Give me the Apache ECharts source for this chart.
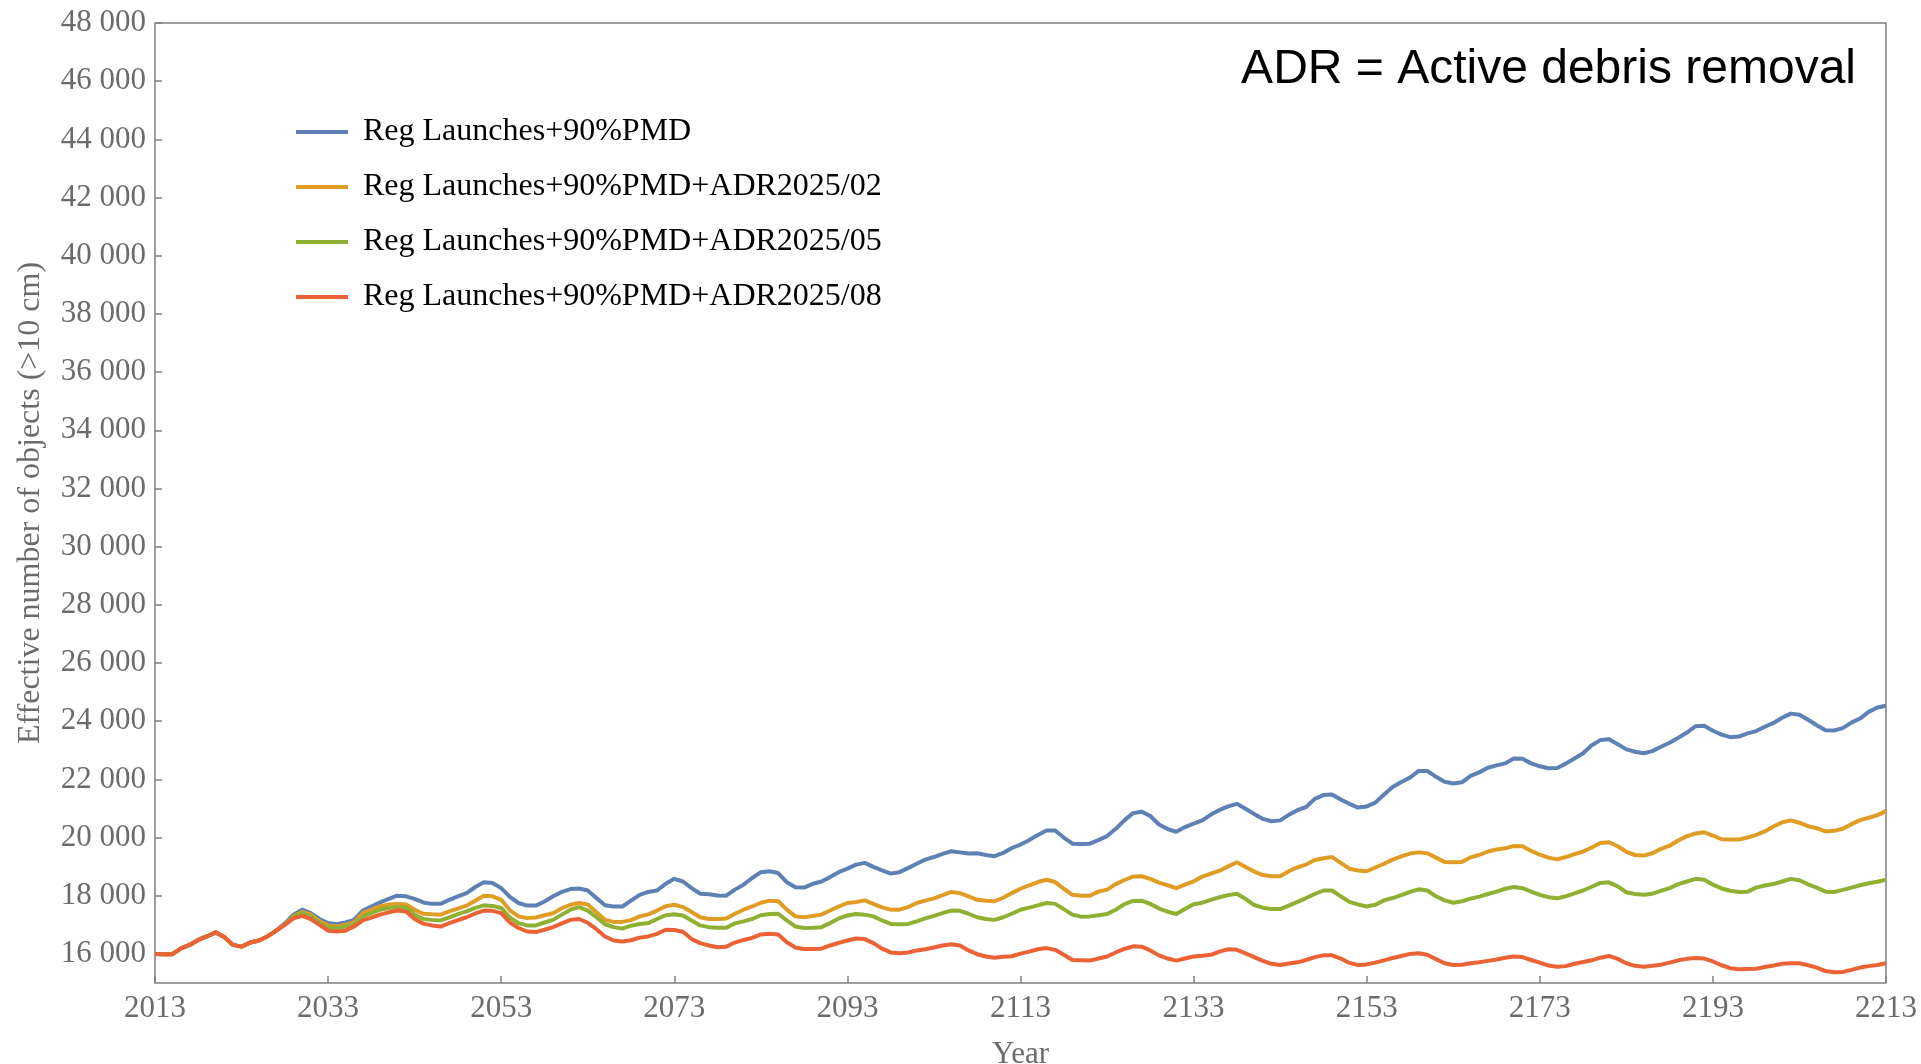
<!DOCTYPE html>
<html>
<head>
<meta charset="utf-8">
<title>Effective number of objects</title>
<script src="https://cdn.jsdelivr.net/npm/echarts@6/dist/echarts.min.js"></script>
<style>
  html, body { margin: 0; padding: 0; background: #fff; }
  #chart { width: 1921px; height: 1064px; }
</style>
</head>
<body>
<div id="chart"></div>
<script>
// one value per year, 2013 .. 2213
const startYear = 2013
const endYear = 2213
const years = Array.from({ length: endYear - startYear + 1 }, (_, i) => startYear + i)

const seriesNames = [
  'Reg Launches+90%PMD',
  'Reg Launches+90%PMD+ADR2025/02',
  'Reg Launches+90%PMD+ADR2025/05',
  'Reg Launches+90%PMD+ADR2025/08'
]

const pmd90 = [
  16000, 15990, 15990, 16190, 16310, 16480, 16600, 16740, 16580, 16310,
  16250, 16390, 16460, 16600, 16800, 17050, 17350, 17520, 17400, 17200,
  17060, 17020, 17080, 17170, 17490, 17630, 17770, 17890, 18000, 17980,
  17890, 17770, 17720, 17720, 17860, 17980, 18090, 18300, 18460, 18440,
  18260, 17960, 17750, 17660, 17660, 17800, 17980, 18130, 18230, 18250,
  18180, 17920, 17670, 17630, 17630, 17830, 18030, 18130, 18180, 18410,
  18580, 18490, 18260, 18070, 18050, 18010, 18000, 18210, 18380, 18610,
  18810, 18840, 18780, 18460, 18290, 18280, 18410, 18490, 18640, 18810,
  18930, 19070, 19130, 18990, 18870, 18760, 18810, 18950, 19100, 19240,
  19330, 19440, 19530, 19490, 19450, 19460, 19400, 19360, 19470, 19640,
  19760, 19910, 20090, 20240, 20240, 20000, 19790, 19780, 19790, 19910,
  20050, 20300, 20590, 20840, 20890, 20740, 20450, 20290, 20200, 20360,
  20480, 20590, 20790, 20950, 21070, 21160, 20990, 20810, 20640, 20560,
  20590, 20780, 20940, 21050, 21330, 21460, 21480, 21310, 21160, 21030,
  21070, 21200, 21480, 21740, 21910, 22060, 22290, 22290, 22090, 21920,
  21860, 21900, 22120, 22240, 22400, 22480, 22550, 22720, 22710, 22550,
  22450, 22380, 22390, 22540, 22720, 22900, 23170, 23350, 23380, 23210,
  23030, 22950, 22900, 22970, 23120, 23260, 23430, 23610, 23830, 23840,
  23670, 23540, 23450, 23470, 23580, 23660, 23810, 23940, 24120, 24260,
  24220, 24050, 23860, 23690, 23680, 23760, 23950, 24090, 24320, 24470,
  24530
]

const adr02 = [
  16000, 15990, 15990, 16190, 16310, 16480, 16600, 16740, 16580, 16310,
  16250, 16390, 16460, 16600, 16800, 17020, 17290, 17440, 17350, 17120,
  16980, 16940, 17000, 17080, 17400, 17520, 17630, 17700, 17720, 17700,
  17520, 17380, 17360, 17350, 17460, 17560, 17660, 17830, 18000, 17980,
  17860, 17500, 17290, 17230, 17250, 17330, 17400, 17570, 17690, 17750,
  17700, 17430, 17170, 17100, 17100, 17160, 17290, 17360, 17490, 17640,
  17690, 17610, 17440, 17260, 17200, 17200, 17220, 17380, 17520, 17630,
  17760, 17830, 17810, 17520, 17290, 17260, 17300, 17350, 17490, 17630,
  17750, 17780, 17840, 17720, 17600, 17520, 17520, 17610, 17750, 17830,
  17910, 18020, 18130, 18090, 17980, 17860, 17830, 17810, 17930, 18090,
  18240, 18360, 18470, 18550, 18470, 18240, 18030, 18000, 18000, 18140,
  18210, 18400, 18540, 18660, 18670, 18580, 18450, 18360, 18260, 18380,
  18490, 18660, 18760, 18860, 19010, 19150, 18990, 18830, 18710, 18670,
  18670, 18840, 18980, 19070, 19230, 19290, 19330, 19130, 18930, 18870,
  18840, 18970, 19100, 19240, 19350, 19450, 19490, 19460, 19310, 19160,
  19150, 19160, 19320, 19400, 19520, 19590, 19630, 19710, 19700, 19540,
  19410, 19310, 19250, 19330, 19430, 19520, 19660, 19810, 19840, 19700,
  19510, 19400, 19380, 19460, 19610, 19720, 19900, 20050, 20140, 20180,
  20070, 19940, 19930, 19930, 20000, 20090, 20210, 20380, 20520, 20590,
  20510, 20390, 20320, 20210, 20230, 20300, 20460, 20600, 20680, 20770,
  20910
]

const adr05 = [
  16000, 15990, 15990, 16190, 16310, 16480, 16600, 16740, 16580, 16310,
  16250, 16390, 16460, 16600, 16800, 17010, 17260, 17400, 17290, 17060,
  16920, 16890, 16940, 17020, 17290, 17400, 17520, 17580, 17610, 17590,
  17350, 17200, 17170, 17150, 17260, 17370, 17460, 17580, 17670, 17650,
  17580, 17250, 17060, 16980, 16980, 17080, 17170, 17350, 17520, 17610,
  17490, 17260, 17020, 16920, 16870, 16970, 17030, 17060, 17200, 17330,
  17360, 17320, 17150, 16980, 16920, 16900, 16900, 17050, 17120, 17200,
  17330, 17370, 17380, 17150, 16940, 16890, 16900, 16920, 17060, 17220,
  17320, 17370, 17350, 17290, 17150, 17030, 17020, 17030, 17120, 17220,
  17310, 17400, 17490, 17480, 17380, 17260, 17200, 17170, 17260, 17380,
  17520, 17590, 17670, 17750, 17720, 17540, 17350, 17280, 17290, 17330,
  17370, 17520, 17710, 17820, 17830, 17720, 17560, 17450, 17370, 17540,
  17710, 17760, 17860, 17950, 18020, 18070, 17890, 17680, 17590, 17540,
  17540, 17660, 17790, 17920, 18060, 18180, 18180, 17980, 17790, 17700,
  17630, 17690, 17840, 17920, 18020, 18130, 18220, 18180, 17980, 17840,
  17760, 17810, 17900, 17970, 18060, 18140, 18240, 18300, 18260, 18140,
  18030, 17950, 17910, 17980, 18080, 18180, 18310, 18440, 18460, 18320,
  18120, 18060, 18030, 18070, 18170, 18260, 18400, 18490, 18580, 18550,
  18380, 18250, 18170, 18130, 18140, 18280, 18350, 18400, 18490, 18580,
  18530, 18390, 18280, 18140, 18130, 18200, 18280, 18360, 18430, 18480,
  18550
]

const adr08 = [
  16000, 15990, 15990, 16190, 16310, 16480, 16600, 16740, 16580, 16310,
  16250, 16390, 16460, 16600, 16800, 17000, 17220, 17310, 17200, 17000,
  16800, 16770, 16800, 16940, 17150, 17250, 17350, 17430, 17490, 17460,
  17200, 17040, 16980, 16940, 17060, 17160, 17260, 17390, 17490, 17480,
  17400, 17080, 16890, 16770, 16750, 16830, 16920, 17050, 17170, 17200,
  17070, 16850, 16600, 16460, 16430, 16470, 16560, 16600, 16690, 16830,
  16820, 16760, 16510, 16370, 16290, 16230, 16250, 16390, 16480, 16550,
  16670, 16690, 16670, 16400, 16220, 16170, 16170, 16180, 16290, 16380,
  16460, 16530, 16510, 16370, 16180, 16050, 16020, 16050, 16120, 16160,
  16220, 16290, 16330, 16290, 16120, 15990, 15910, 15870, 15900, 15920,
  16010, 16080, 16160, 16200, 16140, 15970, 15790, 15780, 15770, 15840,
  15910, 16050, 16170, 16260, 16250, 16120, 15950, 15840, 15770, 15840,
  15910, 15940, 15970, 16080, 16160, 16140, 16020, 15890, 15760, 15660,
  15620, 15670, 15710, 15790, 15890, 15950, 15950, 15840, 15690, 15620,
  15640, 15700, 15780, 15860, 15930, 16000, 16020, 15970, 15820, 15680,
  15620, 15630, 15680, 15710, 15760, 15810, 15870, 15910, 15890, 15790,
  15700, 15600, 15560, 15580, 15660, 15720, 15780, 15870, 15930, 15830,
  15680, 15590, 15560, 15590, 15630, 15700, 15780, 15830, 15860, 15840,
  15740, 15610, 15510, 15470, 15480, 15490, 15550, 15600, 15660, 15680,
  15680, 15610, 15530, 15410, 15370, 15380, 15450, 15530, 15580, 15620,
  15680
]

const xTicks = [2013, 2033, 2053, 2073, 2093, 2113, 2133, 2153, 2173, 2193, 2213]
const yTicks = [16000, 18000, 20000, 22000, 24000, 26000, 28000, 30000, 32000,
  34000, 36000, 38000, 40000, 42000, 44000, 46000, 48000]

const colors = ['#5e81b5', '#e19c24', '#8fb032', '#eb6235']
const allValues = [pmd90, adr02, adr05, adr08]

const serif = '"Liberation Serif", "DejaVu Serif", serif'
const axisGray = '#808080'
const labelGray = '#6b6b6b'

const chart = echarts.init(document.getElementById('chart'), null, { renderer: 'canvas' })

const options = {
  animation: false,
  color: colors,
  grid: {
    left: 155,
    top: 23,
    width: 1731,
    height: 960,
    outerBoundsMode: 'none',
    show: true,
    borderColor: axisGray,
    borderWidth: 1.5,
    backgroundColor: 'transparent'
  },
  legend: {
    orient: 'vertical',
    left: 291,
    top: 109,
    icon: 'rect',
    itemWidth: 52,
    itemHeight: 4,
    itemGap: 19,
    textStyle: {
      fontFamily: serif,
      fontSize: 32,
      lineHeight: 36,
      color: '#000',
      padding: [0, 0, 0, 10]
    },
    data: seriesNames
  },
  xAxis: {
    type: 'value',
    min: startYear,
    max: endYear,
    name: 'Year',
    nameLocation: 'middle',
    nameGap: 56,
    nameTextStyle: { fontFamily: serif, fontSize: 31, color: labelGray },
    axisLine: { show: false },
    splitLine: { show: false },
    axisTick: {
      show: true,
      inside: true,
      length: 7,
      customValues: xTicks,
      lineStyle: { color: axisGray, width: 1.5 }
    },
    axisLabel: {
      customValues: xTicks,
      margin: 10,
      fontFamily: serif,
      fontSize: 31,
      color: labelGray,
      formatter: (v) => String(v)
    }
  },
  yAxis: {
    type: 'value',
    min: 15000,
    max: 48000,
    name: 'Effective number of objects (>10 cm)',
    nameLocation: 'middle',
    nameGap: 108,
    nameTextStyle: { fontFamily: serif, fontSize: 32, color: labelGray },
    axisLine: { show: false },
    splitLine: { show: false },
    axisTick: {
      show: true,
      inside: true,
      length: 7,
      customValues: yTicks,
      lineStyle: { color: axisGray, width: 1.5 }
    },
    axisLabel: {
      customValues: yTicks,
      margin: 9,
      fontFamily: serif,
      fontSize: 31,
      color: labelGray,
      formatter: (v) => String(v).replace(/(\d+)(\d{3})$/, '$1 $2')
    }
  },
  graphic: [
    {
      type: 'text',
      right: 65,
      top: 46,
      style: {
        text: 'ADR = Active debris removal',
        font: '48px "Liberation Sans", Arial, sans-serif',
        fill: '#000'
      }
    }
  ],
  series: seriesNames.map((name, i) => ({
    name: name,
    type: 'line',
    symbol: 'none',
    smooth: false,
    lineStyle: { width: 4, color: colors[i] },
    itemStyle: { color: colors[i] },
    data: years.map((y, k) => [y, allValues[i][k]])
  }))
}

chart.setOption(options)
</script>
</body>
</html>
